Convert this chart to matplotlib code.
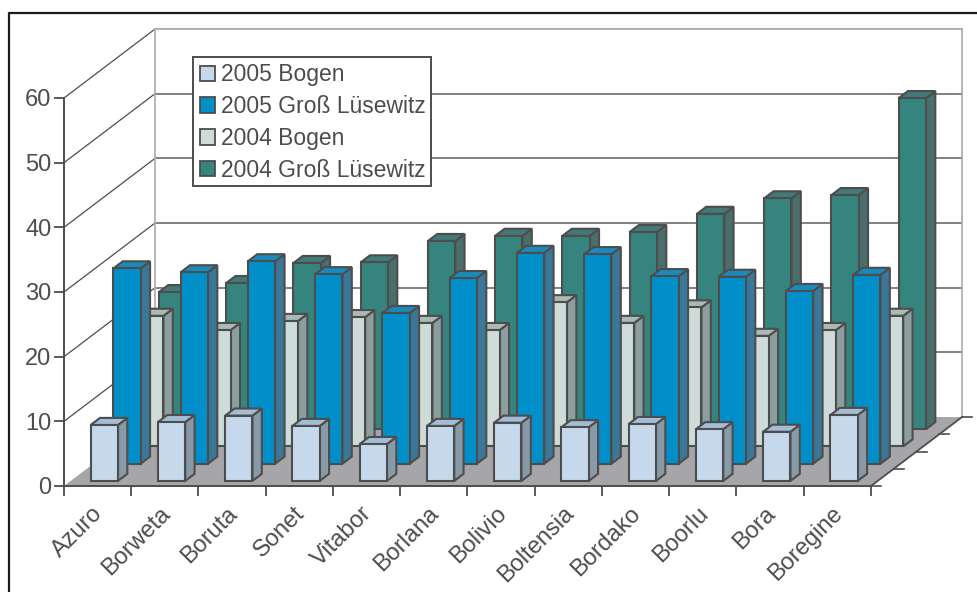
import numpy as np
import matplotlib
matplotlib.use("Agg")
import matplotlib.pyplot as plt
from matplotlib.lines import Line2D
from matplotlib.patches import Patch, Polygon, Rectangle
from matplotlib.transforms import IdentityTransform, ScaledTranslation

plt.rcParams['font.family'] = ['Liberation Sans', 'DejaVu Sans']

categories = ['Azuro', 'Borweta', 'Boruta', 'Sonet', 'Vitabor', 'Borlana',
              'Bolivio', 'Boltensia', 'Bordako', 'Boorlu', 'Bora', 'Boregine']
bogen_2005 = [8.65, 9.1, 10.1, 8.5, 5.7, 8.5, 9.0, 8.3, 8.8, 8.0, 7.6, 10.2]
luesewitz_2005 = [30.2, 29.6, 31.3, 29.3, 23.3, 28.7, 32.6, 32.4, 29.0, 28.9, 26.7, 29.2]
bogen_2004 = [20.2, 18.0, 19.4, 20.0, 19.1, 18.0, 22.3, 19.1, 21.5, 17.1, 18.0, 20.2]
luesewitz_2004 = [21.2, 22.6, 25.7, 25.8, 29.1, 29.9, 29.9, 30.5, 33.3, 35.7, 36.2, 51.2]
y_ticks = [0, 10, 20, 30, 40, 50, 60]

names = ['2005 Bogen', '2005 Groß Lüsewitz', '2004 Bogen', '2004 Groß Lüsewitz']
series = [bogen_2005, luesewitz_2005, bogen_2004, luesewitz_2004]
# front, top, side
colors = [('#c6d9ec', '#a3bdd6', '#8899a8'),
          ('#008fc8', '#1a8abc', '#3a7899'),
          ('#cddcd8', '#a9bbb7', '#8d9e9e'),
          ('#35857e', '#44797a', '#4a6e6c')]

DARK = '#4d4d4d'
# oblique depth of one series row, in category / value units
DX = 0.3383
DY = 2.666
ROWS = len(series)
BAR_W = 0.406
BAR_D = 0.41
BAR_START = 0.295


def proj(x, y, depth):
    return (x + depth * DX, y + depth * DY)


def draw_bar(ax, x, value, row, cols, z):
    d0 = row + BAR_START
    d1 = d0 + BAR_D
    x0 = x - BAR_W / 2
    x1 = x + BAR_W / 2
    front = [proj(x0, 0, d0), proj(x1, 0, d0), proj(x1, value, d0), proj(x0, value, d0)]
    top = [proj(x0, value, d0), proj(x1, value, d0), proj(x1, value, d1), proj(x0, value, d1)]
    side = [proj(x1, 0, d0), proj(x1, 0, d1), proj(x1, value, d1), proj(x1, value, d0)]
    for pts, c in [(side, cols[2]), (top, cols[1]), (front, cols[0])]:
        ax.add_patch(Polygon(pts, closed=True, facecolor=c, edgecolor=DARK,
                             linewidth=1.5, joinstyle='miter', zorder=z, clip_on=False))


fig = plt.figure(figsize=(9.78, 5.92), dpi=100)
ax = fig.add_axes([64 / 978, (592 - 486) / 592, 807 / 978, 388 / 592])
ax.set_xlim(0, len(categories))
ax.set_ylim(0, 60)

# outer frame runs off the picture on the right and at the bottom
fig.add_artist(Line2D([9 / 978, 9 / 978, 1.01], [-0.01, 1 - 13 / 592, 1 - 13 / 592],
                      transform=fig.transFigure, color='#1a1a1a', lw=1.6))

n = len(categories)
# floor
floor = [proj(0, 0, 0), proj(n, 0, 0), proj(n, 0, ROWS), proj(0, 0, ROWS)]
ax.add_patch(Polygon(floor, closed=True, facecolor='#a5a5aa', edgecolor='none', zorder=1, clip_on=False))

# walls and grid
for v in y_ticks[1:]:
    x_a, y_a = proj(0, v, ROWS)
    x_b, y_b = proj(n, v, ROWS)
    col = '#a8a8ae' if v == 60 else '#777777'
    ax.plot([x_a, x_b], [y_a, y_b], color=col, lw=1.3, zorder=1, clip_on=False)
    ax.plot([0, x_a], [v, y_a], color=DARK, lw=0.9, zorder=1, clip_on=False)
for x_w in [0, n]:
    x_a, y_a = proj(x_w, 0, ROWS)
    x_b, y_b = proj(x_w, 60, ROWS)
    ax.plot([x_a, x_b], [y_a, y_b], color='#b0b0b8', lw=1.3, zorder=1, clip_on=False)

# depth ticks on the right edge of the floor
for r in range(ROWS + 1):
    x_a, y_a = proj(n, 0, r)
    ax.plot([x_a, x_a + 0.15], [y_a, y_a], color=DARK, lw=1.2, zorder=2, clip_on=False)
x_a, y_a = proj(n, 0, 0)
x_b, y_b = proj(n, 0, ROWS)
ax.plot([x_a, x_b], [y_a, y_b], color=DARK, lw=1.3, zorder=2, clip_on=False)

# bars, back row first
for row in range(ROWS - 1, -1, -1):
    for i, value in enumerate(series[row]):
        draw_bar(ax, i + 0.5, value, row, colors[row], 3 + (ROWS - row))

for s in ['top', 'right']:
    ax.spines[s].set_visible(False)
for s in ['left', 'bottom']:
    ax.spines[s].set_color(DARK)
    ax.spines[s].set_linewidth(1.4)
    ax.spines[s].set_zorder(2)
ax.patch.set_alpha(0)

ax.set_yticks(y_ticks)
ax.tick_params(axis='y', length=7, width=1.3, color=DARK, labelcolor=DARK, labelsize=17, pad=2)
ax.set_xticks(np.arange(n + 1))
ax.set_xticklabels([])
ax.tick_params(axis='x', which='major', length=7, width=1.3, color=DARK)
ax.set_xticks(np.arange(n) + 0.5, minor=True)
ax.set_xticklabels(categories, minor=True, rotation=45, ha='right', va='top',
                   rotation_mode='anchor', color=DARK, fontsize=17)
ax.tick_params(axis='x', which='minor', length=0, pad=12)
shift = ScaledTranslation(-6 / 100, 0, fig.dpi_scale_trans)
for lab in ax.get_xticklabels(minor=True):
    lab.set_transform(lab.get_transform() + shift)

# legend box is drawn apart, the stock frame comes out too tall for this row pitch
ax.add_patch(Rectangle((192.5, 592 - 186), 238.5, 129.5, transform=IdentityTransform(),
                       facecolor='white', edgecolor=DARK, linewidth=1.4, zorder=19, clip_on=False))
handles = [Patch(facecolor=c[0], edgecolor=DARK, linewidth=1.3) for c in colors]
leg = ax.legend(handles, names, loc='upper left', bbox_to_anchor=(199.5, 592 - 63.5),
                bbox_transform=IdentityTransform(), borderaxespad=0, fontsize=16.5,
                labelcolor=DARK, handlelength=0.67, handleheight=0.67, handletextpad=0.27,
                labelspacing=0.38, borderpad=0, frameon=False)
leg.set_zorder(20)

fig.savefig('out.png', dpi=100)
